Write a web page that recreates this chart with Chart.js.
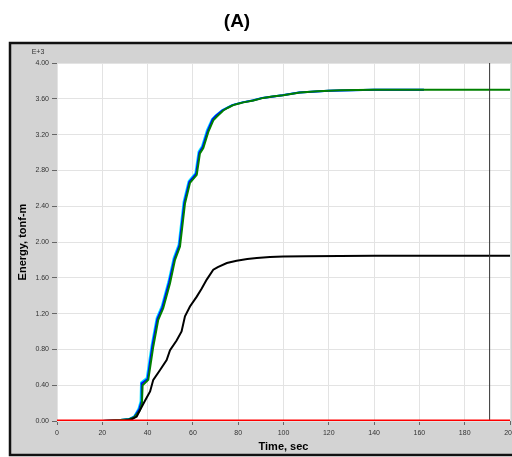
<!DOCTYPE html>
<html>
<head>
<meta charset="utf-8">
<script src="https://cdn.jsdelivr.net/npm/chart.js@4/dist/chart.umd.min.js"></script>
<style>
  html, body { margin: 0; padding: 0; background: #ffffff; }
  #wrap { width: 512px; height: 457px; }
</style>
</head>
<body>
<div id="wrap"><canvas id="c" width="512" height="457"></canvas></div>
<script>
// Energy history (values in E+3 tonf-m) against time in seconds
const xTicks = [0, 20, 40, 60, 80, 100, 120, 140, 160, 180, 200];
const yTicks = [0, 0.4, 0.8, 1.2, 1.6, 2.0, 2.4, 2.8, 3.2, 3.6, 4.0];

const greenTime = [20, 28, 32, 34, 35.2, 36.6, 37.5, 37.8, 40.3, 42.5, 44.7, 46.9, 49.9, 52.1, 54.3, 56.5, 58.7, 61.7, 63.1, 64.6, 66.8, 69.0, 70.5, 73.4, 75.5, 77.8, 80.0, 82.3, 86.7, 91.1, 95.0, 99.9, 107.3, 115, 125, 140, 160, 180, 200];
const greenEnergy = [0, 0.01, 0.02, 0.04, 0.075, 0.12, 0.2, 0.40, 0.46, 0.83, 1.13, 1.26, 1.54, 1.80, 1.95, 2.43, 2.66, 2.75, 2.99, 3.05, 3.23, 3.36, 3.40, 3.47, 3.50, 3.53, 3.545, 3.56, 3.58, 3.61, 3.625, 3.64, 3.67, 3.685, 3.695, 3.70, 3.70, 3.70, 3.70];

const blueTime = [20, 28, 32, 34, 35.0, 36.3, 37.2, 37.4, 40.0, 42.1, 44.3, 46.5, 49.5, 51.8, 54.0, 56.2, 58.4, 61.4, 62.8, 64.3, 66.5, 68.7, 70.2, 73.1, 77.5, 82.0, 86.4, 90.8, 99.6, 107.0, 120, 140, 162];
const blueEnergy = [0, 0.01, 0.02, 0.045, 0.08, 0.13, 0.21, 0.42, 0.47, 0.84, 1.14, 1.27, 1.55, 1.81, 1.96, 2.44, 2.67, 2.76, 3.00, 3.06, 3.24, 3.37, 3.41, 3.47, 3.53, 3.56, 3.58, 3.61, 3.64, 3.67, 3.69, 3.70, 3.70];

const cyanTime = [20, 28, 32, 34, 34.8, 36.0, 36.9, 37.1, 39.6, 41.8, 44.0, 46.2, 49.2, 51.5, 53.7, 55.9, 58.1, 61.1, 62.5, 64.0, 66.2, 68.4, 69.9, 72.8, 77.2, 81.7, 86.1, 90.5, 99.3, 106.7, 120, 140, 162];
const cyanEnergy = [0, 0.01, 0.025, 0.05, 0.085, 0.14, 0.22, 0.43, 0.48, 0.85, 1.15, 1.28, 1.56, 1.82, 1.97, 2.45, 2.68, 2.77, 3.01, 3.07, 3.25, 3.37, 3.41, 3.47, 3.53, 3.56, 3.58, 3.61, 3.64, 3.67, 3.69, 3.70, 3.70];

const blackTime = [20, 30, 33, 35.2, 36.6, 38.9, 41.1, 42.5, 45.5, 48.4, 49.9, 52.8, 55.0, 56.5, 58.7, 61.7, 63.9, 66.1, 69.0, 71.0, 75.0, 79.3, 84.0, 88.2, 94.0, 99.9, 110, 140, 200];
const blackEnergy = [0, 0.005, 0.02, 0.05, 0.12, 0.23, 0.33, 0.46, 0.57, 0.68, 0.79, 0.90, 1.00, 1.17, 1.28, 1.39, 1.48, 1.58, 1.69, 1.72, 1.765, 1.79, 1.81, 1.82, 1.832, 1.838, 1.842, 1.845, 1.845];

const redTime = [0, 200];
const redEnergy = [0, 0];

const cursorTime = [191, 191];
const cursorEnergy = [0, 4];

const toPoints = (xs, ys) => xs.map((x, i) => ({ x: x, y: ys[i] }));

const FONT = "'Liberation Sans', Arial, sans-serif";

// Gray panel with dark frame, white plot area, plus heading and exponent note
const framePlugin = {
  id: 'frame',
  beforeDraw(chart) {
    const ctx = chart.ctx;
    const a = chart.chartArea;
    ctx.save();
    ctx.fillStyle = '#ffffff';
    ctx.fillRect(0, 0, chart.width, chart.height);
    ctx.fillStyle = '#d3d3d3';
    ctx.fillRect(10, 43, chart.width, 412);
    ctx.strokeStyle = '#111111';
    ctx.lineWidth = 2.5;
    ctx.strokeRect(10, 43, chart.width + 10, 412);
    ctx.fillStyle = '#ffffff';
    ctx.fillRect(a.left, a.top, a.right - a.left, a.bottom - a.top);
    ctx.restore();
  },
  afterDraw(chart) {
    const ctx = chart.ctx;
    ctx.save();
    ctx.fillStyle = '#000000';
    ctx.font = 'bold 19px ' + FONT;
    ctx.textAlign = 'center';
    ctx.textBaseline = 'middle';
    ctx.fillText('(A)', 237, 22);
    ctx.fillStyle = '#333333';
    ctx.font = '7px ' + FONT;
    ctx.fillText('E+3', 38, 52);
    ctx.restore();
  }
};

// Lower dataset index is painted on top, so the zero line comes first
new Chart(document.getElementById('c'), {
  type: 'line',
  data: {
    datasets: [
      { label: 'red', data: toPoints(redTime, redEnergy), borderColor: '#ff0000', borderWidth: 3, pointRadius: 0, tension: 0 },
      { label: 'cursor', data: toPoints(cursorTime, cursorEnergy), borderColor: '#333333', borderWidth: 1, pointRadius: 0, tension: 0 },
      { label: 'black', data: toPoints(blackTime, blackEnergy), borderColor: '#000000', borderWidth: 2, pointRadius: 0, tension: 0 },
      { label: 'green', data: toPoints(greenTime, greenEnergy), borderColor: '#008000', borderWidth: 2, pointRadius: 0, tension: 0 },
      { label: 'blue', data: toPoints(blueTime, blueEnergy), borderColor: '#0000ff', borderWidth: 2, pointRadius: 0, tension: 0 },
      { label: 'cyan', data: toPoints(cyanTime, cyanEnergy), borderColor: '#00e5ff', borderWidth: 2, pointRadius: 0, tension: 0 }
    ]
  },
  options: {
    responsive: false,
    animation: false,
    events: [],
    layout: { padding: { left: 10, right: 2, top: 63, bottom: 0 } },
    plugins: {
      legend: { display: false },
      title: { display: false },
      tooltip: { enabled: false }
    },
    scales: {
      x: {
        type: 'linear',
        min: 0,
        max: 200,
        afterFit(scale) { scale.height = 36; scale.paddingRight = 0; scale.paddingLeft = 0; },
        afterBuildTicks(scale) { scale.ticks = xTicks.map(v => ({ value: v })); },
        border: { display: false },
        grid: { color: '#e3e3e3', lineWidth: 1, tickLength: 4, tickColor: '#666666' },
        ticks: { color: '#333333', font: { family: FONT, size: 7 }, padding: 4, maxRotation: 0, autoSkip: false },
        title: { display: true, text: 'Time, sec', color: '#000000', font: { family: FONT, size: 11, weight: 'bold' }, padding: { top: 0, bottom: 3 } }
      },
      y: {
        type: 'linear',
        min: 0,
        max: 4,
        afterFit(scale) { scale.width = 47; },
        afterBuildTicks(scale) { scale.ticks = yTicks.map(v => ({ value: v })); },
        border: { display: false },
        grid: { color: '#e3e3e3', lineWidth: 1, tickLength: 5, tickColor: '#666666' },
        ticks: { color: '#333333', font: { family: FONT, size: 7 }, padding: 3, autoSkip: false, callback: v => Number(v).toFixed(2) },
        title: { display: true, text: 'Energy, tonf-m', color: '#000000', font: { family: FONT, size: 11, weight: 'bold' }, padding: { top: 6, bottom: 0 } }
      }
    }
  },
  plugins: [framePlugin]
});
</script>
</body>
</html>
